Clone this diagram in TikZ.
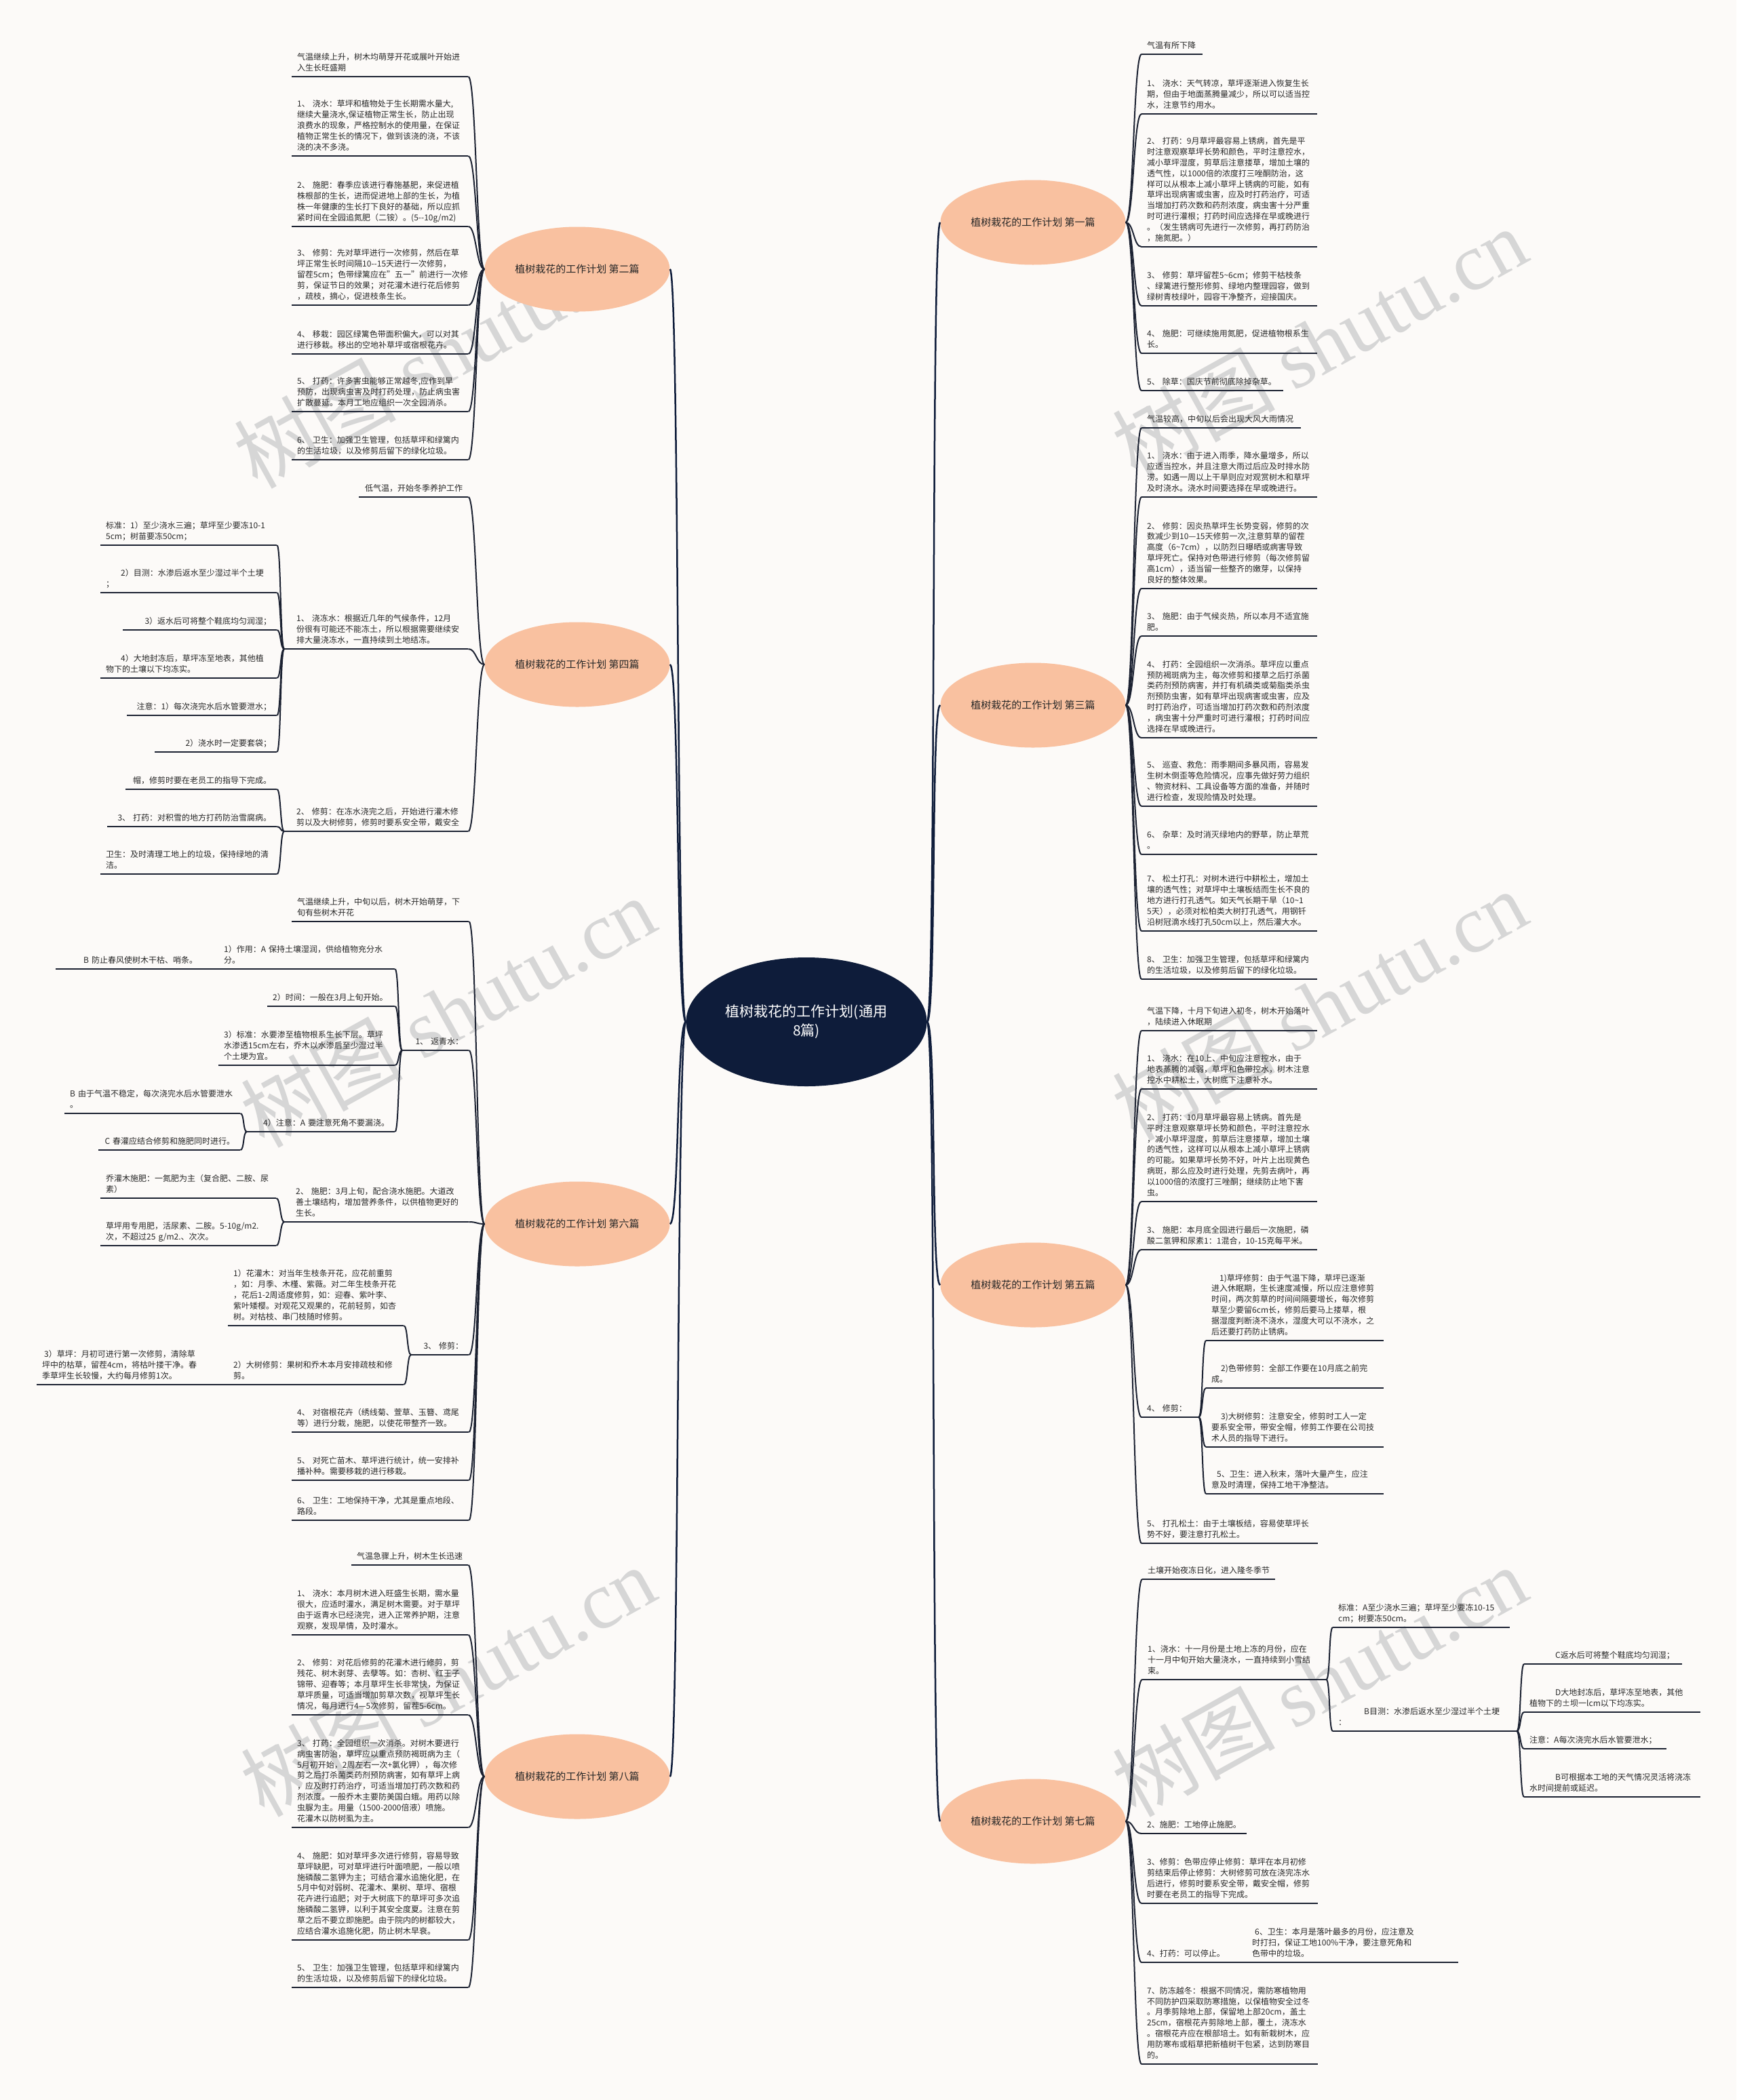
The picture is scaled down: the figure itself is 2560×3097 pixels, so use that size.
\documentclass[tikz,border=0pt]{standalone}
\usepackage{fontspec}
\setmainfont{Noto Sans CJK SC}
\newfontfamily\wmserif{Liberation Serif}
\usetikzlibrary{shapes.geometric}
\definecolor{bg}{RGB}{252,250,248}
\definecolor{peach}{RGB}{249,193,160}
\definecolor{navy}{RGB}{14,28,58}
\definecolor{txt}{RGB}{40,40,40}
\definecolor{lnk}{RGB}{28,34,50}
\definecolor{wm}{RGB}{214,214,214}
\hyphenpenalty=10000
\exhyphenpenalty=10000
\tikzset{
 leaf/.style={anchor=south west, align=left, inner xsep=8pt, inner ysep=4pt,
   font=\fontsize{12pt}{15.8pt}\selectfont, text=txt},
 uline/.style={draw=lnk, line width=2pt},
 conn/.style={draw=lnk, line width=2pt},
 mainconn/.style={draw=navy, line width=2.5pt},
 branch/.style={ellipse, fill=peach, minimum width=273pt, minimum height=125pt,
   inner sep=0pt, font=\fontsize{15pt}{18pt}\selectfont, text=txt},
 root/.style={ellipse, fill=navy, minimum width=355pt, minimum height=190pt,
   inner sep=0pt, align=center, font=\fontsize{21pt}{28pt}\selectfont, text=white},
 wmark/.style={text=wm, rotate=29, font=\fontsize{120pt}{120pt}\selectfont, inner sep=0pt}
}
\newcommand{\leafnode}[6][]{%
  \pgfmathsetmacro{\lfw}{#4-#3}%
  \pgfmathsetmacro{\lftw}{#4-#3-16}%
  \node[leaf,minimum width=\lfw pt,text width=\lftw pt,#1] (#2) at (#3,#5) {#6\strut};
  \draw[uline] (#2.south west) -- (#2.south east);
}
\begin{document}
\begin{tikzpicture}[x=1pt,y=-1pt]
\useasboundingbox (0,0) rectangle (2560,3097);
\fill[bg] (0,0) rectangle (2560,3097);
% watermarks
\node[wmark] (w1) at (650,520) {树图~{\wmserif shutu.cn}};
\node[wmark] (w2) at (1945,505) {树图~{\wmserif shutu.cn}};
\node[wmark] (w3) at (660,1492) {树图~{\wmserif shutu.cn}};
\node[wmark] (w4) at (1945,1482) {树图~{\wmserif shutu.cn}};
\node[wmark] (w5) at (660,2479) {树图~{\wmserif shutu.cn}};
\node[wmark] (w6) at (1945,2479) {树图~{\wmserif shutu.cn}};

% root and branches
\node[root] (C) at (1189,1507) {植树栽花的工作计划(通用\\8篇)};
\node[branch] (B2) at (851,397) {植树栽花的工作计划 第二篇};
\node[branch] (B4) at (851,980) {植树栽花的工作计划 第四篇};
\node[branch] (B6) at (851,1805) {植树栽花的工作计划 第六篇};
\node[branch] (B8) at (851,2620) {植树栽花的工作计划 第八篇};
\node[branch] (B1) at (1523,328) {植树栽花的工作计划 第一篇};
\node[branch] (B3) at (1523,1040) {植树栽花的工作计划 第三篇};
\node[branch] (B5) at (1523,1895) {植树栽花的工作计划 第五篇};
\node[branch] (B7) at (1523,2686) {植树栽花的工作计划 第七篇};

% ---------- 第二篇 ----------
\leafnode{c0}{430}{690}{113}{气温继续上升，树木均萌芽开花或展叶开始进\\入生长旺盛期}
\leafnode{c1}{430}{690}{230}{1、~浇水：草坪和植物处于生长期需水量大,\\继续大量浇水,保证植物正常生长，防止出现\\浪费水的现象，严格控制水的使用量，在保证\\植物正常生长的情况下，做到该浇的浇，不该\\浇的决不多浇。}
\leafnode{c2}{430}{690}{334}{2、~施肥：春季应该进行春施基肥，来促进植\\株根部的生长，进而促进地上部的生长，为植\\株一年健康的生长打下良好的基础，所以应抓\\紧时间在全园追氮肥（二铵）。(5-{}-10g/m2)}
\leafnode{c3}{430}{690}{450}{3、~修剪：先对草坪进行一次修剪，然后在草\\坪正常生长时间隔10-{}-15天进行一次修剪，\\留茬5cm；色带绿篱应在"五一"前进行一次修\\剪，保证节日的效果；对花灌木进行花后修剪\\，疏枝，摘心，促进枝条生长。}
\leafnode{c4}{430}{690}{522}{4、~移栽：园区绿篱色带面积偏大，可以对其\\进行移栽。移出的空地补草坪或宿根花卉。}
\leafnode{c5}{430}{690}{607}{5、~打药：许多害虫能够正常越冬,应作到早\\预防，出现病虫害及时打药处理，防止病虫害\\扩散蔓延。本月工地应组织一次全园消杀。}
\leafnode{c6}{430}{690}{678}{6、~卫生：加强卫生管理，包括草坪和绿篱内\\的生活垃圾，以及修剪后留下的绿化垃圾。}

% ---------- 第四篇 ----------
\leafnode[align=right]{d0}{529}{690}{733}{低气温，开始冬季养护工作}
\leafnode{d1}{419}{690}{957}{\hspace*{10pt}1、~浇冻水：根据近几年的气候条件，12月\\\hspace*{10pt}份很有可能还不能冻土，所以根据需要继续安\\\hspace*{10pt}排大量浇冻水，一直持续到土地结冻。}
\leafnode{e1}{148}{408}{804}{标准：1）至少浇水三遍；草坪至少要冻10-1\\5cm；树苗要冻50cm；}
\leafnode{e2}{148}{408}{874}{\hspace*{22pt}2）目测：水渗后返水至少湿过半个土埂\\；}
\leafnode[align=right]{e3}{181}{408}{929}{3）返水后可将整个鞋底均匀润湿；}
\leafnode{e4}{148}{408}{1000}{\hspace*{22pt}4）大地封冻后，草坪冻至地表，其他植\\物下的土壤以下均冻实。}
\leafnode[align=right]{e5}{187}{408}{1055}{注意：1）每次浇完水后水管要泄水；}
\leafnode[align=right]{e6}{228}{408}{1109}{2）浇水时一定要套袋；}
\leafnode{d2}{419}{690}{1226}{\hspace*{10pt}2、~修剪：在冻水浇完之后，开始进行灌木修\\\hspace*{10pt}剪以及大树修剪，修剪时要系安全带，戴安全}
\leafnode[align=right]{f1}{185}{408}{1164}{帽，修剪时要在老员工的指导下完成。}
\leafnode[align=right]{f2}{158}{408}{1219}{3、~打药：对积雪的地方打药防治雪腐病。}
\leafnode{f3}{148}{408}{1289}{卫生：及时清理工地上的垃圾，保持绿地的清\\洁。}

% ---------- 第六篇 ----------
\leafnode{g0}{430}{691}{1359}{气温继续上升，中旬以后，树木开始萌芽，下\\旬有些树木开花}
\leafnode[align=right]{g1}{593}{691}{1549}{1、~返青水：}
\leafnode{h1}{322}{582}{1429}{1）作用：A~保持土壤湿润，供给植物充分水\\分。}
\leafnode{hh1}{82}{322}{1429}{\hspace*{33pt}B~防止春风使树木干枯、哨条。}
\leafnode{h2}{394}{582}{1484}{2）时间：一般在3月上旬开始。}
\leafnode{h3}{322}{582}{1571}{3）标准：水要渗至植物根系生长下层。草坪\\水渗透15cm左右，乔木以水渗后至少湿过半\\个土埂为宜。}
\leafnode[align=right]{h4}{364}{582}{1669}{4）注意：A~要注意死角不要漏浇。}
\leafnode{i1}{95}{354}{1642}{B~由于气温不稳定，每次浇完水后水管要泄水\\。}
\leafnode[align=right]{i2}{145}{354}{1696}{C~春灌应结合修剪和施肥同时进行。}
\leafnode{g2}{419}{691}{1802}{\hspace*{9pt}2、~施肥：3月上旬，配合浇水施肥。大道改\\\hspace*{9pt}善土壤结构，增加营养条件，以供植物更好的\\\hspace*{9pt}生长。}
\leafnode{j1}{148}{407}{1767}{乔灌木施肥：一氮肥为主（复合肥、二胺、尿\\素）}
\leafnode{j2}{148}{407}{1837}{草坪用专用肥，活尿素、二胺。5-10g/m2.\\次，不超过25~g/m2.、次次。}
\leafnode[align=right]{g3}{606}{691}{1998}{3、~修剪：}
\leafnode{k1}{336}{595}{1955}{1）花灌木：对当年生枝条开花，应花前重剪\\，如：月季、木槿、紫薇。对二年生枝条开花\\，花后1-2周适度修剪，如：迎春、紫叶李、\\紫叶矮樱。对观花又观果的，花前轻剪，如杏\\树。对枯枝、串门枝随时修剪。}
\leafnode{k2}{336}{595}{2042}{2）大树修剪：果树和乔木本月安排疏枝和修\\剪。}
\leafnode{k2a}{54}{336}{2042}{\hspace*{3pt}3）草坪：月初可进行第一次修剪，清除草\\坪中的枯草，留茬4cm，将枯叶搂干净。春\\季草坪生长较慢，大约每月修剪1次。}
\leafnode{g4}{430}{691}{2112}{4、~对宿根花卉（绣线菊、萱草、玉簪、鸢尾\\等）进行分栽，施肥，以使花带整齐一致。}
\leafnode{g5}{430}{691}{2183}{5、~对死亡苗木、草坪进行统计，统一安排补\\播补种。需要移栽的进行移栽。}
\leafnode{g6}{430}{691}{2242}{6、~卫生：工地保持干净，尤其是重点地段、\\路段。}

% ---------- 第八篇 ----------
\leafnode[align=right]{m0}{518}{690}{2308}{气温急骤上升，树木生长迅速}
\leafnode{m1}{430}{690}{2411}{1、~浇水：本月树木进入旺盛生长期，需水量\\很大，应适时灌水，满足树木需要。对于草坪\\由于返青水已经浇完，进入正常养护期，注意\\观察，发现旱情，及时灌水。}
\leafnode{m2}{430}{690}{2529}{2、~修剪：对花后修剪的花灌木进行修剪，剪\\残花、树木剥芽、去孽等。如：杏树、红王子\\锦带、迎春等；本月草坪生长非常快，为保证\\草坪质量，可适当增加剪草次数，视草坪生长\\情况，每月进行4—5次修剪，留茬5-6cm。}
\leafnode{m3}{430}{690}{2695}{3、~打药：全园组织一次消杀。对树木要进行\\病虫害防治，草坪应以重点预防褐斑病为主（\\5月初开始，2周左右一次+氯化钾），每次修\\剪之后打杀菌类药剂预防病害，如有草坪上病\\，应及时打药治疗，可适当增加打药次数和药\\剂浓度。一般乔木主要防美国白蛾。用药以除\\虫脲为主。用量（1500-2000倍液）喷施。\\花灌木以防树虱为主。}
\leafnode{m4}{430}{690}{2861}{4、~施肥：如对草坪多次进行修剪，容易导致\\草坪缺肥，可对草坪进行叶面喷肥，一般以喷\\施磷酸二氢钾为主；可结合灌水追施化肥，在\\5月中旬对弱树、花灌木、果树、草坪、宿根\\花卉进行追肥；对于大树底下的草坪可多次追\\施磷酸二氢钾，以利于其安全度夏。注意在剪\\草之后不要立即施肥。由于院内的树都较大，\\应结合灌水追施化肥，防止树木早衰。}
\leafnode{m5}{430}{690}{2931}{5、~卫生：加强卫生管理，包括草坪和绿篱内\\的生活垃圾，以及修剪后留下的绿化垃圾。}

% ---------- 第一篇 ----------
\leafnode{n0}{1683}{1773}{80}{气温有所下降}
\leafnode{n1}{1683}{1942}{168}{1、~浇水：天气转凉，草坪逐渐进入恢复生长\\期，但由于地面蒸腾量减少，所以可以适当控\\水，注意节约用水。}
\leafnode{n2}{1683}{1942}{364}{2、~打药：9月草坪最容易上锈病，首先是平\\时注意观察草坪长势和颜色，平时注意控水，\\减小草坪湿度，剪草后注意搂草，增加土壤的\\透气性，以1000倍的浓度打三唑酮防治，这\\样可以从根本上减小草坪上锈病的可能，如有\\草坪出现病害或虫害，应及时打药治疗，可适\\当增加打药次数和药剂浓度，病虫害十分严重\\时可进行灌根；打药时间应选择在早或晚进行\\。（发生锈病可先进行一次修剪，再打药防治\\，施氮肥。）}
\leafnode{n3}{1683}{1942}{451}{3、~修剪：草坪留茬5\textasciitilde 6cm；修剪干枯枝条\\、绿篱进行整形修剪、绿地内整理园容，做到\\绿树青枝绿叶，园容干净整齐，迎接国庆。}
\leafnode{n4}{1683}{1942}{521}{4、~施肥：可继续施用氮肥，促进植物根系生\\长。}
\leafnode{n5}{1683}{1892}{576}{5、~除草：国庆节前彻底除掉杂草。}

% ---------- 第三篇 ----------
\leafnode{p0}{1683}{1918}{631}{气温较高，中旬以后会出现大风大雨情况}
\leafnode{p1}{1683}{1942}{733}{1、~浇水：由于进入雨季，降水量增多，所以\\应适当控水，并且注意大雨过后应及时排水防\\涝。如遇一周以上干旱则应对观赏树木和草坪\\及时浇水。浇水时间要选择在早或晚进行。}
\leafnode{p2}{1683}{1942}{868}{2、~修剪：因炎热草坪生长势变弱，修剪的次\\数减少到10—15天修剪一次,注意剪草的留茬\\高度（6\textasciitilde 7cm），以防烈日曝晒或病害导致\\草坪死亡。保持对色带进行修剪（每次修剪留\\高1cm），适当留一些整齐的嫩芽，以保持\\良好的整体效果。}
\leafnode{p3}{1683}{1942}{938}{3、~施肥：由于气候炎热，所以本月不适宜施\\肥。}
\leafnode{p4}{1683}{1942}{1088}{4、~打药：全园组织一次消杀。草坪应以重点\\预防褐斑病为主，每次修剪和搂草之后打杀菌\\类药剂预防病害，并打有机磷类或菊脂类杀虫\\剂预防虫害，如有草坪出现病害或虫害，应及\\时打药治疗，可适当增加打药次数和药剂浓度\\，病虫害十分严重时可进行灌根；打药时间应\\选择在早或晚进行。}
\leafnode{p5}{1683}{1942}{1189}{5、~巡查、救危：雨季期间多暴风雨，容易发\\生树木倒歪等危险情况，应事先做好劳力组织\\、物资材料、工具设备等方面的准备，并随时\\进行检查，发现险情及时处理。}
\leafnode{p6}{1683}{1942}{1260}{6、~杂草：及时消灭绿地内的野草，防止草荒\\。}
\leafnode{p7}{1683}{1942}{1373}{7、~松土打孔：对树木进行中耕松土，增加土\\壤的透气性；对草坪中土壤板结而生长不良的\\地方进行打孔透气。如天气长期干旱（10\textasciitilde 1\\5天），必须对松柏类大树打孔透气，用钢钎\\沿树冠滴水线打孔50cm以上，然后灌大水。}
\leafnode{p8}{1683}{1942}{1444}{8、~卫生：加强卫生管理，包括草坪和绿篱内\\的生活垃圾，以及修剪后留下的绿化垃圾。}

% ---------- 第五篇 ----------
\leafnode{q0}{1683}{1942}{1520}{气温下降，十月下旬进入初冬，树木开始落叶\\，陆续进入休眠期}
\leafnode{q1}{1683}{1942}{1606}{1、~浇水：在10上、中旬应注意控水，由于\\地表蒸腾的减弱，草坪和色带控水，树木注意\\控水中耕松土，大树底下注意补水。}
\leafnode{q2}{1683}{1942}{1772}{2、~打药：10月草坪最容易上锈病。首先是\\平时注意观察草坪长势和颜色，平时注意控水\\，减小草坪湿度，剪草后注意搂草，增加土壤\\的透气性，这样可以从根本上减小草坪上锈病\\的可能。如果草坪长势不好，叶片上出现黄色\\病斑，那么应及时进行处理，先剪去病叶，再\\以1000倍的浓度打三唑酮；继续防止地下害\\虫。}
\leafnode{q3}{1683}{1942}{1843}{3、~施肥：本月底全园进行最后一次施肥，磷\\酸二氢钾和尿素1：1混合，10-15克每平米。}
\leafnode{q4}{1683}{1767}{2090}{4、~修剪：}
\leafnode{r1}{1778}{2040}{1977}{\hspace*{12pt}1)草坪修剪：由于气温下降，草坪已逐渐\\进入休眠期，生长速度减慢，所以应注意修剪\\时间，两次剪草的时间间隔要增长，每次修剪\\草至少要留6cm长，修剪后要马上搂草，根\\据湿度判断浇不浇水，湿度大可以不浇水，之\\后还要打药防止锈病。}
\leafnode{r2}{1778}{2040}{2047}{\hspace*{14pt}2)色带修剪：全部工作要在10月底之前完\\成。}
\leafnode{r3}{1778}{2040}{2134}{\hspace*{14pt}3)大树修剪：注意安全，修剪时工人一定\\要系安全带，带安全帽，修剪工作要在公司技\\术人员的指导下进行。}
\leafnode{r4}{1778}{2040}{2203}{\hspace*{8pt}5、卫生：进入秋末，落叶大量产生，应注\\意及时清理，保持工地干净整洁。}
\leafnode{q5}{1683}{1943}{2276}{5、~打孔松土：由于土壤板结，容易使草坪长\\势不好，要注意打孔松土。}

% ---------- 第七篇 ----------
\leafnode{s0}{1684}{1880}{2329}{土壤开始夜冻日化，进入隆冬季节}
\leafnode{s1}{1684}{1955}{2477}{1、浇水：十一月份是土地上冻的月份，应在\\十一月中旬开始大量浇水，一直持续到小雪结\\束。}
\leafnode{t1}{1965}{2226}{2400}{标准：A至少浇水三遍；草坪至少要冻10-15\\cm；树要冻50cm。}
\leafnode{t2}{1965}{2236}{2553}{\hspace*{38pt}B目测：水渗后返水至少湿过半个土埂\\：}
\leafnode{u1}{2247}{2480}{2454}{\hspace*{38pt}C返水后可将整个鞋底均匀润湿；}
\leafnode{u2}{2247}{2507}{2525}{\hspace*{38pt}D大地封冻后，草坪冻至地表，其他\\植物下的±坝一lcm以下均冻实。}
\leafnode{u3}{2247}{2457}{2579}{注意：A每次浇完水后水管要泄水；}
\leafnode{u4}{2247}{2507}{2650}{\hspace*{38pt}B可根据本工地的天气情况灵活将浇冻\\水时间提前或延迟。}
\leafnode{s2}{1683}{1838}{2704}{2、施肥：工地停止施肥。}
\leafnode{s3}{1683}{1943}{2807}{3、修剪：色带应停止修剪：草坪在本月初修\\剪结束后停止修剪：大树修剪可放在浇完冻水\\后进行，修剪时要系安全带，戴安全帽，修剪\\时要在老员工的指导下完成。}
\leafnode{s4}{1683}{1838}{2894}{4、打药：可以停止。}
\leafnode{s4a}{1838}{2150}{2894}{\hspace*{4pt}6、卫生：本月是落叶最多的月份，应注意及\\时打扫，保证工地100\%干净，要注意死角和\\色带中的垃圾。}
\leafnode{s5}{1683}{1943}{3044}{7、防冻越冬：根据不同情况，需防寒植物用\\不同防护四采取防寒措施，以保植物安全过冬\\。月季剪除地上部，保留地上部20cm，盖土\\25cm，宿根花卉剪除地上部，覆土，浇冻水\\。宿根花卉应在根部培土。如有新栽树木，应\\用防寒布或稻草把新植树干包紧，达到防寒目\\的。}

% ---------- connectors ----------
\foreach \b in {B2,B4,B6,B8}
  \draw[mainconn] (C.west) .. controls +(-14,0) and +(14,0) .. (\b.east);
\foreach \b in {B1,B3,B5,B7}
  \draw[mainconn] (C.east) .. controls +(14,0) and +(-14,0) .. (\b.west);

\foreach \t in {c0,c1,c2,c3,c4,c5,c6}
  \draw[conn] (B2.west) .. controls +(-12,0) and +(12,0) .. (\t.south east);
\foreach \t in {d0,d1,d2}
  \draw[conn] (B4.west) .. controls +(-12,0) and +(12,0) .. (\t.south east);
\foreach \t in {e1,e2,e3,e4,e5,e6}
  \draw[conn] (d1.south west) .. controls +(-6,0) and +(6,0) .. (\t.south east);
\foreach \t in {f1,f2,f3}
  \draw[conn] (d2.south west) .. controls +(-6,0) and +(6,0) .. (\t.south east);
\foreach \t in {g0,g1,g2,g3,g4,g5,g6}
  \draw[conn] (B6.west) .. controls +(-12,0) and +(12,0) .. (\t.south east);
\foreach \t in {h1,h2,h3,h4}
  \draw[conn] (g1.south west) .. controls +(-6,0) and +(6,0) .. (\t.south east);
\draw[conn] (h1.south west) -- (hh1.south east);
\foreach \t in {i1,i2}
  \draw[conn] (h4.south west) .. controls +(-6,0) and +(6,0) .. (\t.south east);
\foreach \t in {j1,j2}
  \draw[conn] (g2.south west) .. controls +(-6,0) and +(6,0) .. (\t.south east);
\foreach \t in {k1,k2}
  \draw[conn] (g3.south west) .. controls +(-6,0) and +(6,0) .. (\t.south east);
\draw[conn] (k2.south west) -- (k2a.south east);
\foreach \t in {m0,m1,m2,m3,m4,m5}
  \draw[conn] (B8.west) .. controls +(-12,0) and +(12,0) .. (\t.south east);

\foreach \t in {n0,n1,n2,n3,n4,n5}
  \draw[conn] (B1.east) .. controls +(12,0) and +(-12,0) .. (\t.south west);
\foreach \t in {p0,p1,p2,p3,p4,p5,p6,p7,p8}
  \draw[conn] (B3.east) .. controls +(12,0) and +(-12,0) .. (\t.south west);
\foreach \t in {q0,q1,q2,q3,q4,q5}
  \draw[conn] (B5.east) .. controls +(12,0) and +(-12,0) .. (\t.south west);
\foreach \t in {r1,r2,r3,r4}
  \draw[conn] (q4.south east) .. controls +(6,0) and +(-6,0) .. (\t.south west);
\foreach \t in {s0,s1,s2,s3,s4,s5}
  \draw[conn] (B7.east) .. controls +(12,0) and +(-12,0) .. (\t.south west);
\foreach \t in {t1,t2}
  \draw[conn] (s1.south east) .. controls +(6,0) and +(-6,0) .. (\t.south west);
\foreach \t in {u1,u2,u3,u4}
  \draw[conn] (t2.south east) .. controls +(6,0) and +(-6,0) .. (\t.south west);
\draw[conn] (s4.south east) -- (s4a.south west);
\end{tikzpicture}
\end{document}
